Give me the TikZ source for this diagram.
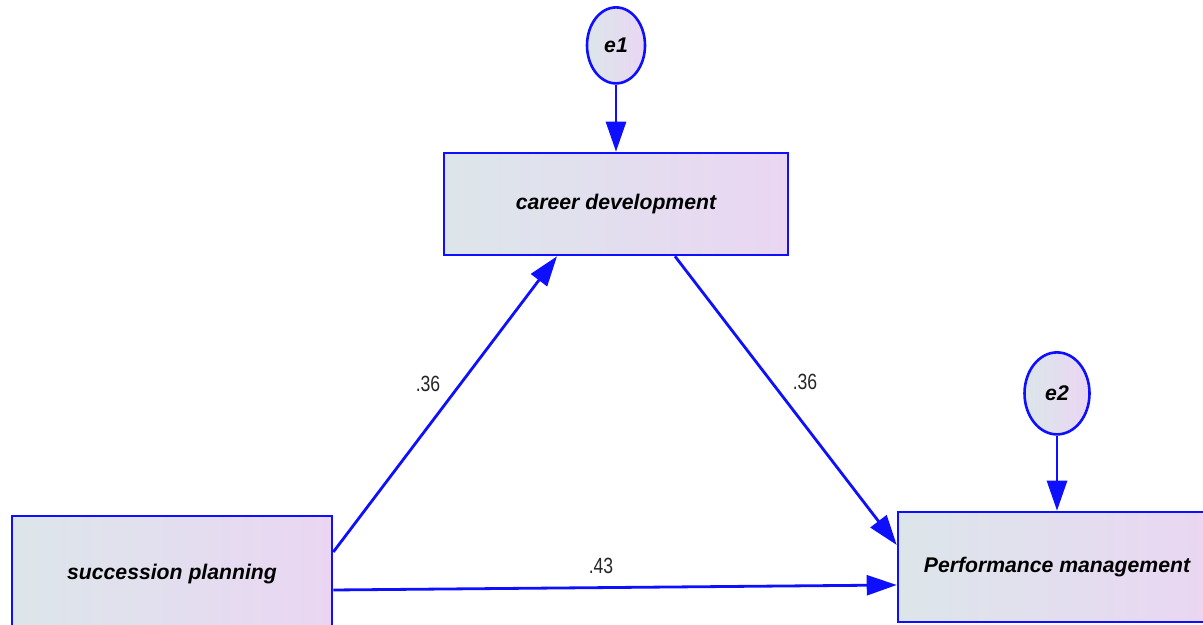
\documentclass[tikz,border=0pt]{standalone}
\usepackage{fontspec}
\setmainfont{Liberation Sans}
\newfontfamily\narrowsf[FakeStretch=0.8]{Liberation Sans}
\usetikzlibrary{positioning}
\usetikzlibrary{arrows.meta,shapes.geometric}
\definecolor{boxleft}{RGB}{220,230,234}
\definecolor{boxright}{RGB}{234,214,243}
\definecolor{pathblue}{RGB}{15,15,255}
\tikzset{basic/.style={draw=pathblue,line width=1.3pt,left color=boxleft,right color=boxright,font=\fontsize{10.6}{12}\selectfont\bfseries\itshape}}
\tikzset{observed/.style={basic,rectangle}}
\tikzset{residual/.style={basic,ellipse,inner sep=0pt}}
\tikzset{link/.style={draw=pathblue,line width=1.4pt,->}}
\tikzset{weight/.style={font=\narrowsf\fontsize{11}{12}\selectfont,text=black!85}}

\begin{document}
\begin{tikzpicture}[x=0.5pt,y=0.5pt,>={Triangle[length=15pt,width=10pt]}]
        \useasboundingbox (0,0) rectangle (1203,625);
        \node[observed,minimum width=172pt,minimum height=51pt] (career) at (616,421) {career development};
        \node[residual,minimum width=29pt,minimum height=38pt,above=33.5pt of career] (e1) {e1};
            \path[link] (e1) -- (career);
        \node[observed,minimum width=160pt,minimum height=58pt] (succession) at (172,51) {succession planning};
        \node[observed,minimum width=159pt,minimum height=55pt] (performance) at (1057,58) {Performance management};
        \node[residual,minimum width=32.5pt,minimum height=41pt,above=37.5pt of performance] (e2) {e2};
            \path[link] (e2) -- (performance);
        \path[link] ([yshift=11pt]succession.east) -- ([xshift=-29.5pt]career.south);
        \path[link] ([xshift=29.5pt]career.south) -- ([yshift=11pt]performance.west);
        \path[link] ([yshift=-8pt]succession.east) -- ([yshift=-9pt]performance.west);
        \node[weight] (w1) at (428,241) {.36};
        \node[weight] (w2) at (805,243) {.36};
        \node[weight] (w3) at (601,59) {.43};
    \end{tikzpicture}
\end{document}
